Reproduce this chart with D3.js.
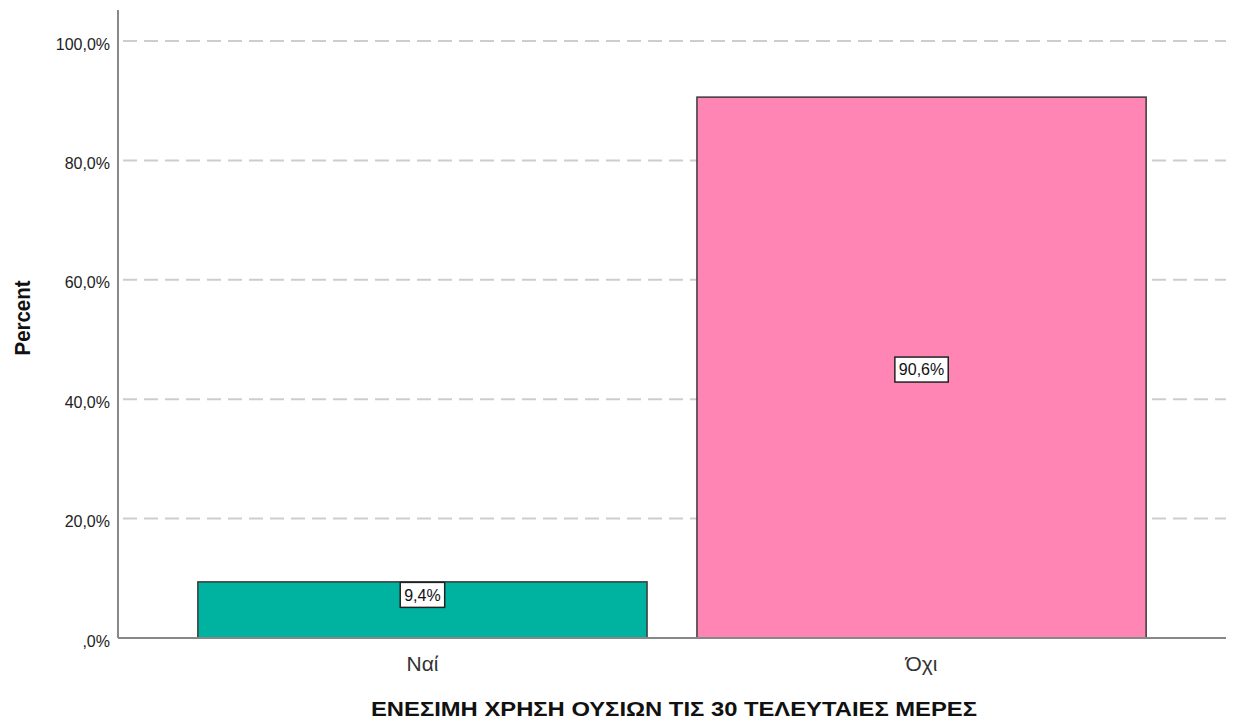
<!DOCTYPE html>
<html>
<head>
<meta charset="utf-8">
<script src="https://cdn.jsdelivr.net/npm/d3@7"></script>
<style>
  html, body { margin: 0; padding: 0; background: #fff; }
  svg { display: block; font-family: Arial, "Liberation Sans", sans-serif; }
</style>
</head>
<body>
<svg id="chart" width="1234" height="722"></svg>
<script>
// Bar chart data
const categories = ["Ναί", "Όχι"];
const percentValues = [9.4, 90.6];
const barColors = ["#00b3a1", "#ff85b5"];
const yTicks = [0, 20, 40, 60, 80, 100];
const xTitle = "ΕΝΕΣΙΜΗ ΧΡΗΣΗ ΟΥΣΙΩΝ ΤΙΣ 30 ΤΕΛΕΥΤΑΙΕΣ ΜΕΡΕΣ";
const yTitle = "Percent";

const svg = d3.select("#chart");
const plot = { left: 118, right: 1226, top: 41, bottom: 638 };
const font = "Arial, 'Liberation Sans', sans-serif";

const x = d3.scaleBand()
  .domain(categories)
  .range([plot.left, plot.right])
  .paddingInner(0.1)
  .paddingOuter(0.16);

const y = d3.scaleLinear()
  .domain([0, 100])
  .range([plot.bottom, plot.top]);

const fmt = v => (v === 0 ? "" : String(Math.floor(v))) + "," + String(Math.round((v % 1) * 10)) + "%";

// Dashed grid lines
svg.append("g")
  .selectAll("line")
  .data(yTicks.filter(t => t > 0))
  .join("line")
  .attr("x1", plot.left)
  .attr("x2", plot.right)
  .attr("y1", d => y(d))
  .attr("y2", d => y(d))
  .attr("stroke", "#cdcdcd")
  .attr("stroke-width", 2)
  .attr("stroke-dasharray", "14,7")
  .attr("stroke-dashoffset", -5);

// Bars
svg.append("g")
  .selectAll("rect")
  .data(categories)
  .join("rect")
  .attr("x", d => x(d))
  .attr("y", (d, i) => y(percentValues[i]))
  .attr("width", x.bandwidth())
  .attr("height", (d, i) => y(0) - y(percentValues[i]))
  .attr("fill", (d, i) => barColors[i])
  .attr("stroke", "#3a3a3a")
  .attr("stroke-width", 1.5);

// Value labels in boxes: centred in tall bars, hung from the top of short ones
const boxH = 25;
const labels = svg.append("g")
  .selectAll("g")
  .data(categories)
  .join("g")
  .attr("transform", (d, i) => {
    const top = y(percentValues[i]);
    const mid = (top + y(0)) / 2 + 2;
    const cy = (y(0) - top) > 100 ? mid : top + boxH / 2 + 0.5;
    return `translate(${x(d) + x.bandwidth() / 2},${cy})`;
  });

labels.each(function(d, i) {
  const g = d3.select(this);
  const t = g.append("text")
    .attr("text-anchor", "middle")
    .attr("dy", "0.36em")
    .attr("font-size", 16)
    .attr("fill", "#111")
    .text(fmt(percentValues[i]));
  const bb = t.node().getBBox();
  g.insert("rect", "text")
    .attr("x", -bb.width / 2 - 4)
    .attr("y", -boxH / 2)
    .attr("width", bb.width + 8)
    .attr("height", boxH)
    .attr("fill", "#fff")
    .attr("stroke", "#222")
    .attr("stroke-width", 1.5);
});

// Axes
const yAxis = d3.axisLeft(y).tickValues(yTicks).tickFormat(fmt).tickSize(0).tickPadding(8);
const yg = svg.append("g").attr("transform", `translate(${plot.left},0)`).call(yAxis);
yg.select(".domain").remove();
yg.selectAll("text").attr("font-size", 16).attr("dy", "0.5em").attr("fill", "#222").attr("font-family", font);

const xAxis = d3.axisBottom(x).tickSize(0).tickPadding(18);
const xg = svg.append("g").attr("transform", `translate(0,${plot.bottom})`).call(xAxis);
xg.select(".domain").remove();
xg.selectAll("text").attr("font-size", 21).attr("fill", "#333").attr("font-family", font);

// Axis lines
svg.append("line")
  .attr("x1", plot.left).attr("x2", plot.left)
  .attr("y1", 10).attr("y2", plot.bottom)
  .attr("stroke", "#888").attr("stroke-width", 2);
svg.append("line")
  .attr("x1", plot.left).attr("x2", plot.right)
  .attr("y1", plot.bottom).attr("y2", plot.bottom)
  .attr("stroke", "#888").attr("stroke-width", 2);

// Axis titles
svg.append("text")
  .attr("x", 674)
  .attr("y", 716)
  .attr("text-anchor", "middle")
  .attr("font-size", 21)
  .attr("font-weight", "bold")
  .attr("fill", "#111")
  .attr("textLength", 606)
  .attr("lengthAdjust", "spacingAndGlyphs")
  .text(xTitle);

svg.append("text")
  .attr("transform", `translate(30,318) rotate(-90)`)
  .attr("text-anchor", "middle")
  .attr("font-size", 22)
  .attr("font-weight", "bold")
  .attr("fill", "#111")
  .attr("textLength", 75)
  .attr("lengthAdjust", "spacingAndGlyphs")
  .text(yTitle);
</script>
</body>
</html>
